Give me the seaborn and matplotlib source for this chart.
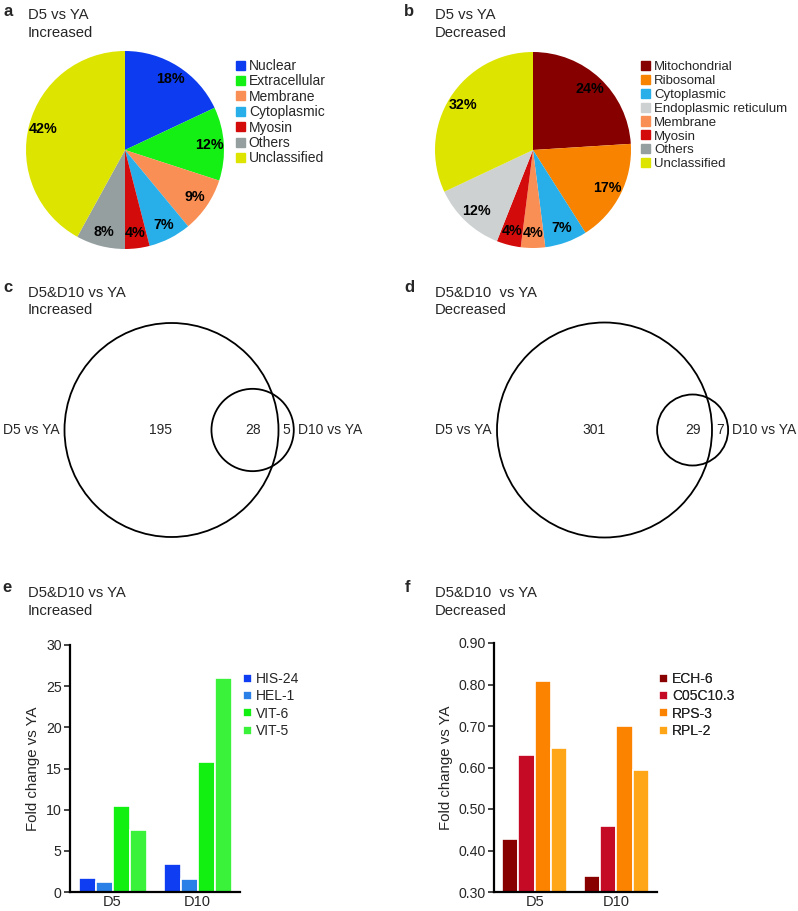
import math
import numpy as np
import pandas as pd
import matplotlib
matplotlib.use("Agg")
import matplotlib.pyplot as plt
from matplotlib.patches import Circle, Patch
import seaborn as sns

# ---------------- data ----------------
pie_a_labels = ["Nuclear", "Extracellular", "Membrane", "Cytoplasmic", "Myosin", "Others", "Unclassified"]
pie_a_values = [18, 12, 9, 7, 4, 8, 42]
pie_a_colors = ["#0d3cf0", "#14f014", "#fa8f55", "#28aee8", "#d40b0b", "#959fa0", "#dde400"]

pie_b_legend = ["Mitochondrial", "Ribosomal", "Cytoplasmic", "Endoplasmic reticulum",
                "Membrane", "Myosin", "Others", "Unclassified"]
pie_b_legend_colors = ["#870000", "#f78300", "#28aee8", "#cdd1d1", "#fa8f55", "#d40b0b", "#959fa0", "#dde400"]
pie_b_labels = ["Mitochondrial", "Ribosomal", "Cytoplasmic", "Membrane", "Myosin",
                "Endoplasmic reticulum", "Unclassified"]
pie_b_values = [24, 17, 7, 4, 4, 12, 32]

venn_c = {"only_a": 195, "both": 28, "only_b": 5, "name_a": "D5 vs YA", "name_b": "D10 vs YA"}
venn_d = {"only_a": 301, "both": 29, "only_b": 7, "name_a": "D5 vs YA", "name_b": "D10 vs YA"}

days = ["D5", "D10"]
inc_genes = ["HIS-24", "HEL-1", "VIT-6", "VIT-5"]
inc_values = {"HIS-24": [1.7, 3.45], "HEL-1": [1.17, 1.6], "VIT-6": [10.45, 15.75], "VIT-5": [7.55, 26.0]}
inc_colors = ["#0f3ef2", "#2a80e6", "#12f012", "#3af23a"]
inc_ticks = [0, 5, 10, 15, 20, 25, 30]

dec_genes = ["ECH-6", "C05C10.3", "RPS-3", "RPL-2"]
dec_values = {"ECH-6": [0.428, 0.338], "C05C10.3": [0.63, 0.46], "RPS-3": [0.808, 0.699], "RPL-2": [0.646, 0.593]}
dec_colors = ["#880000", "#c40a24", "#fb8300", "#ffa518"]
dec_ticks = [0.30, 0.40, 0.50, 0.60, 0.70, 0.80, 0.90]

# ---------------- style ----------------
sns.set_style("ticks")
plt.rcParams["font.family"] = ["Liberation Sans", "DejaVu Sans"]

W, H = 798, 911
fig = plt.figure(figsize=(W / 100, H / 100), dpi=100)


def rect(l, t, w, h):
    return [l / W, 1 - (t + h) / H, w / W, h / H]


ov = fig.add_axes([0, 0, 1, 1])
ov.set_xlim(0, W)
ov.set_ylim(H, 0)
ov.axis("off")
ov.patch.set_alpha(0)

# ---------------- titles ----------------
def panel_title(letter, lx, ly, line1, line2, tx, ty1, ty2):
    ov.text(lx, ly, letter, fontsize=12, fontweight="bold", va="center", ha="left")
    ov.text(tx, ty1, line1, fontsize=10.7, va="center", ha="left")
    ov.text(tx, ty2, line2, fontsize=10.7, va="center", ha="left")


panel_title("a", 3, 12, "D5 vs YA", "Increased", 28, 15, 33)
panel_title("b", 404, 12, "D5 vs YA", "Decreased", 435, 15, 33)
panel_title("c", 3, 288, "D5&D10 vs YA", "Increased", 28, 293, 310)
panel_title("d", 404, 288, "D5&D10  vs YA", "Decreased", 435, 293, 310)
panel_title("e", 2, 588, "D5&D10 vs YA", "Increased", 28, 593, 611)
panel_title("f", 405, 588, "D5&D10  vs YA", "Decreased", 435, 593, 611)

# ---------------- pies ----------------
def draw_pie(cx, cy, r, values, colors):
    ax = fig.add_axes(rect(cx - r, cy - r, 2 * r, 2 * r))
    ax.pie(values, colors=colors, startangle=90, counterclock=False,
           autopct=lambda p: f"{p:.0f}%", pctdistance=0.85,
           wedgeprops=dict(linewidth=0),
           textprops=dict(fontsize=10.3, fontweight="bold", color="black"))
    ax.set_xlim(-1, 1)
    ax.set_ylim(-1, 1)
    ax.set_aspect("equal")
    ax.axis("off")
    return ax


draw_pie(125, 150, 99, pie_a_values, pie_a_colors)
color_b = dict(zip(pie_b_legend, pie_b_legend_colors))
draw_pie(533, 150, 98, pie_b_values, [color_b[l] for l in pie_b_labels])


def px_legend(handles, labels, x, y, fontsize, spacing, hl=0.62):
    leg = ov.legend(handles, labels, loc="upper left", bbox_to_anchor=(x, y),
                    bbox_transform=ov.transData, frameon=False, fontsize=fontsize,
                    handlelength=hl, handleheight=hl, handletextpad=0.3,
                    labelspacing=spacing, borderpad=0, borderaxespad=0)
    ov.add_artist(leg)
    return leg


px_legend([Patch(color=c) for c in pie_a_colors], pie_a_labels, 236, 59, 10, 0.10)
px_legend([Patch(color=c) for c in pie_b_legend_colors], pie_b_legend, 641, 61, 9.5, 0.13, hl=0.68)

# ---------------- venns ----------------
def lens_area(r1, r2, d):
    if d >= r1 + r2:
        return 0.0
    if d <= abs(r1 - r2):
        return math.pi * min(r1, r2) ** 2
    a1 = r1 ** 2 * math.acos((d * d + r1 * r1 - r2 * r2) / (2 * d * r1))
    a2 = r2 ** 2 * math.acos((d * d + r2 * r2 - r1 * r1) / (2 * d * r2))
    a3 = 0.5 * math.sqrt((-d + r1 + r2) * (d + r1 - r2) * (d - r1 + r2) * (d + r1 + r2))
    return a1 + a2 - a3


def draw_venn(v, cx, cy, R):
    tot_a = v["only_a"] + v["both"]
    tot_b = v["only_b"] + v["both"]
    r = R * math.sqrt(tot_b / tot_a)
    target = v["both"] / tot_a * math.pi * R ** 2
    lo, hi = R - r, R + r
    for _ in range(60):
        mid = 0.5 * (lo + hi)
        if lens_area(R, r, mid) > target:
            lo = mid
        else:
            hi = mid
    d = 0.5 * (lo + hi)
    bx = cx + d
    ov.add_patch(Circle((cx, cy), R, fill=False, lw=1.3, ec="black"))
    ov.add_patch(Circle((bx, cy), r, fill=False, lw=1.3, ec="black"))
    fs = 10
    ov.text(cx - R - 5, cy, v["name_a"], fontsize=fs, ha="right", va="center")
    ov.text(cx - 0.1 * R, cy, str(v["only_a"]), fontsize=fs, ha="center", va="center")
    ov.text(bx, cy, str(v["both"]), fontsize=fs, ha="center", va="center")
    ov.text(0.5 * (cx + R + bx + r), cy, str(v["only_b"]), fontsize=fs, ha="center", va="center")
    ov.text(bx + r + 4, cy, v["name_b"], fontsize=fs, ha="left", va="center")


draw_venn(venn_c, 171.5, 430, 107)
draw_venn(venn_d, 604.5, 430, 107.5)

# ---------------- bars ----------------
def draw_bars(box, genes, values, colors, ylim, ticks, fmt, leg_xy):
    df = pd.DataFrame([(day, g, values[g][i]) for g in genes for i, day in enumerate(days)],
                      columns=["day", "gene", "value"])
    ax = fig.add_axes(rect(*box))
    sns.barplot(data=df, x="day", y="value", hue="gene", order=days, hue_order=genes,
                palette=colors, width=0.8, edgecolor="white", linewidth=1.2,
                saturation=1, ax=ax, legend=True)
    ax.set_ylim(*ylim)
    ax.set_xlim(-0.5, 1.5)
    ax.set_yticks(ticks)
    ax.set_yticklabels([fmt.format(t) for t in ticks], fontsize=10.2)
    ax.set_xlabel("")
    ax.set_ylabel("Fold change vs YA", fontsize=10.8, labelpad=4)
    ax.tick_params(axis="x", length=0, labelsize=10.5, pad=2)
    ax.tick_params(axis="y", length=4, width=1.2, pad=2)
    sns.despine(ax=ax)
    for s in ("left", "bottom"):
        ax.spines[s].set_linewidth(1.6)
        ax.spines[s].set_color("black")
    ax.patch.set_alpha(0)
    h, l = ax.get_legend_handles_labels()
    ax.get_legend().remove()
    px_legend(h, l, leg_xy[0], leg_xy[1], 10, 0.24)
    return ax


draw_bars((70, 645, 170, 247), inc_genes, inc_values, inc_colors, (0, 30), inc_ticks, "{:g}", (243, 672))
draw_bars((494, 643, 163, 249), dec_genes, dec_values, dec_colors, (0.3, 0.9), dec_ticks, "{:.2f}", (659, 672))

fig.savefig("out.png", dpi=100)
